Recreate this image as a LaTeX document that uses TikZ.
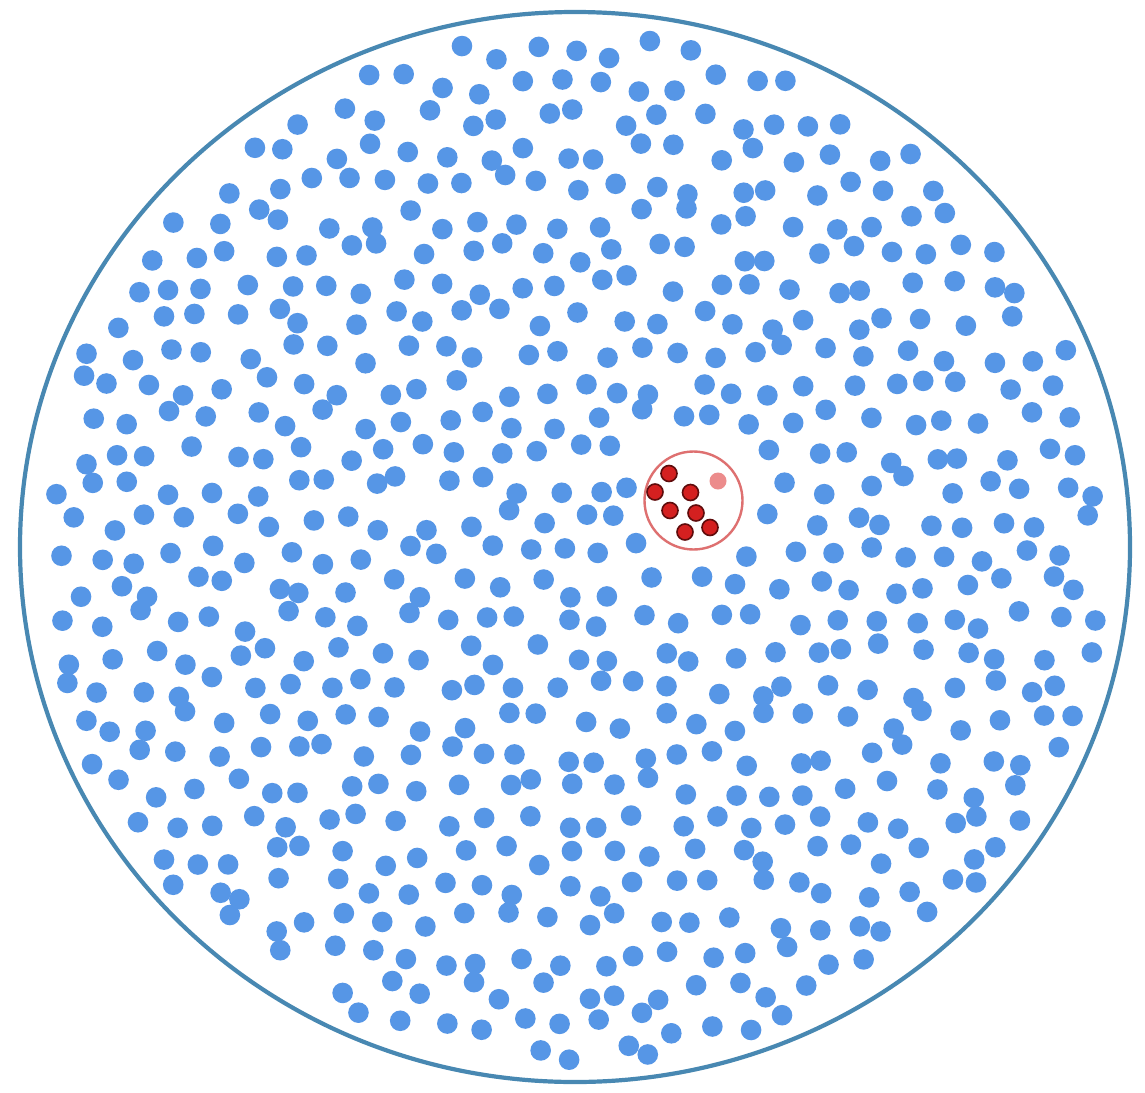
\documentclass[tikz,border=0pt]{standalone}
\definecolor{ringblue}{RGB}{72,136,178}
\definecolor{dotblue}{RGB}{86,150,230}
\definecolor{ringred}{RGB}{222,112,112}
\definecolor{dotred}{RGB}{212,32,32}
\definecolor{dotredline}{RGB}{95,12,12}
\definecolor{dotpink}{RGB}{236,140,140}
\tikzset{
  bluedot/.style={fill=dotblue},
  reddot/.style={fill=dotred,draw=dotredline,line width=1.6pt},
}
\begin{document}
\begin{tikzpicture}[x=1pt,y=-1pt]
\useasboundingbox (0,0) rectangle (1145,1092);
\fill[white] (0,0) rectangle (1145,1092);
% outer boundary
\draw[ringblue,line width=4.2pt] (575,547) ellipse [x radius=555, y radius=535];
% blue dots: jittered hexagonal grid
\pgfmathsetseed{4711}
\foreach \j in {0,...,32}{
  \foreach \i in {0,...,30}{
    \pgfmathsetmacro{\px}{18 + \i*38.7 + mod(\j,2)*19.35 + 11*rand}
    \pgfmathsetmacro{\py}{18 + \j*33.5 + 11*rand}
    \pgfmathsetmacro{\inE}{((\px-575)/534)^2 + ((\py-547)/514)^2}
    \pgfmathsetmacro{\dR}{((\px-693)/64)^2 + ((\py-500)/64)^2}
    \pgfmathtruncatemacro{\ok}{and(\inE<1, \dR>1)}
    \ifnum\ok=1
      \fill[bluedot] (\px,\py) circle [radius=10.3];
    \fi
  }
}
% red region
\draw[ringred,line width=2.4pt] (693.5,500.5) circle [radius=49];
\node[circle,inner sep=0pt,minimum size=16pt,reddot] (r1) at (669,473.5) {};
\node[circle,inner sep=0pt,minimum size=16pt,reddot] (r2) at (655,492) {};
\node[circle,inner sep=0pt,minimum size=16pt,reddot] (r3) at (690.5,492.5) {};
\node[circle,inner sep=0pt,minimum size=16pt,reddot] (r4) at (670,510.5) {};
\node[circle,inner sep=0pt,minimum size=16pt,reddot] (r5) at (696,513) {};
\node[circle,inner sep=0pt,minimum size=16pt,reddot] (r6) at (685,532) {};
\node[circle,inner sep=0pt,minimum size=16pt,reddot] (r7) at (710,527.5) {};
\node[circle,inner sep=0pt,minimum size=17pt,fill=dotpink] (p1) at (718,481) {};
\end{tikzpicture}
\end{document}
